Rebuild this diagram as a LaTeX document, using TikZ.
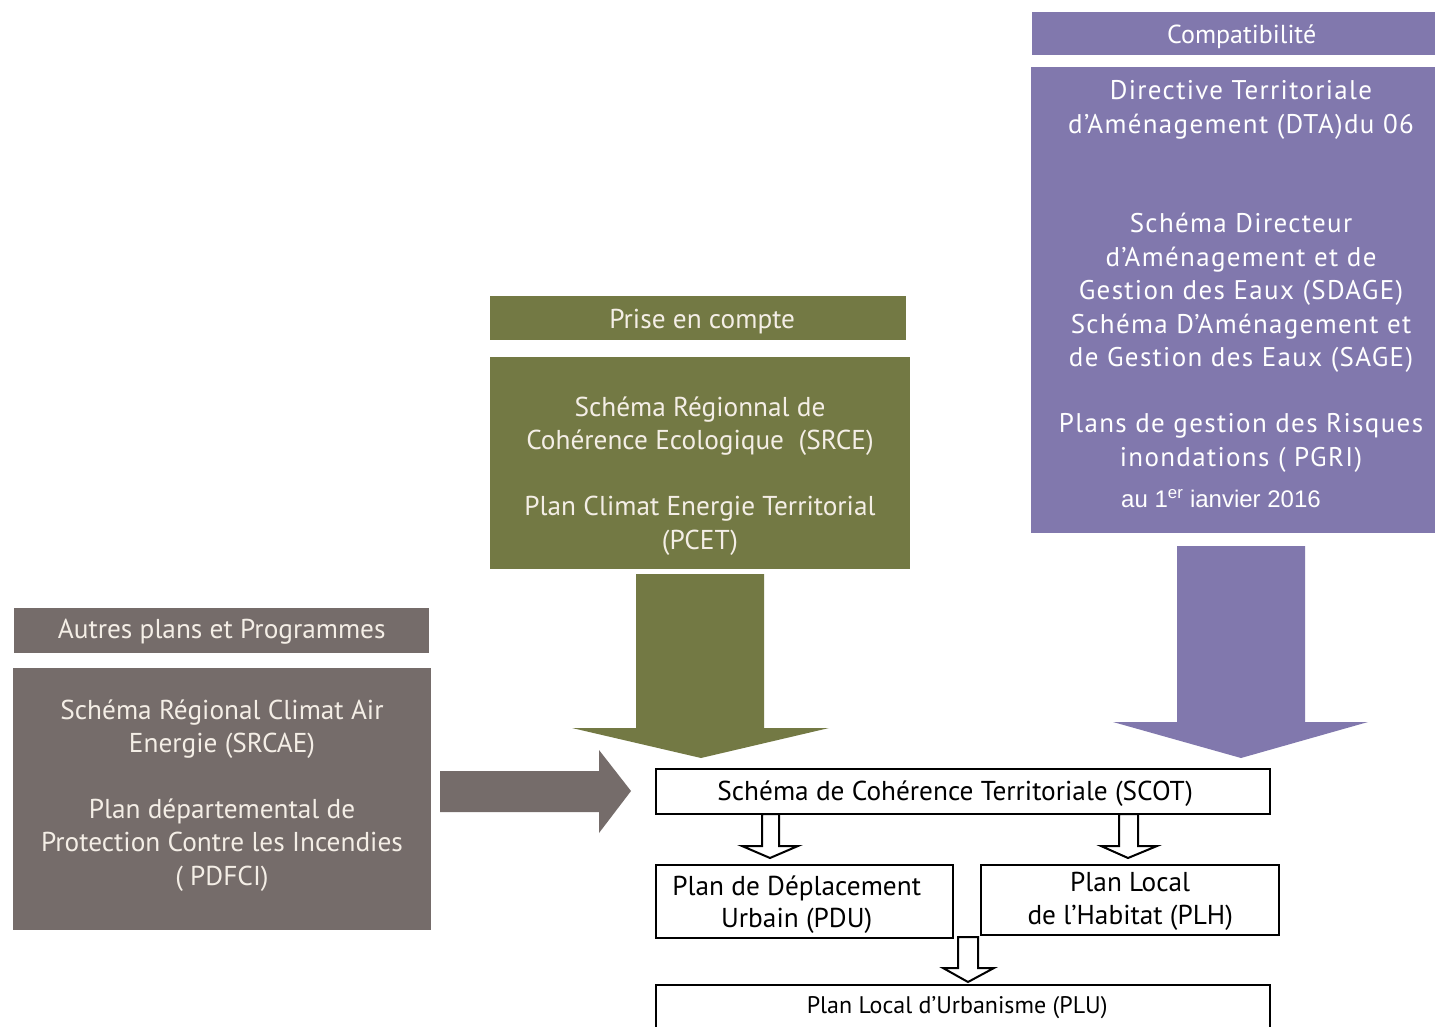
\documentclass[tikz,border=0pt]{standalone}
\usepackage{fontspec}
\setmainfont{PT Sans}
\newfontfamily\spaced[LetterSpace=5]{PT Sans}
\newfontfamily\arialf{Liberation Sans}
\definecolor{cgray}{HTML}{756C6A}
\definecolor{colive}{HTML}{737944}
\definecolor{cpurple}{HTML}{8178AD}
\definecolor{ccream}{HTML}{F4EEE6}
\begin{document}
\begin{tikzpicture}[x=1pt,y=-1pt,
  fillbox/.style={draw=none,inner sep=0pt,anchor=north west},
  wtext/.style={text=ccream,align=center,font=\fontsize{27.3}{33.5}\selectfont},
  ptext/.style={text=white,align=center,font=\spaced\fontsize{27}{33.5}\selectfont},
  bbox/.style={draw=black,line width=2.4pt,fill=white,inner sep=0pt,anchor=north west},
  btext/.style={text=black,align=center,font=\fontsize{27.3}{32.5}\selectfont},
  hollow/.style={draw=black,line width=2pt,fill=white,line join=miter}]
\useasboundingbox (0,0) rectangle (1435,1027);
\fill[white] (0,0) rectangle (1435,1027);

% purple
\node[fillbox,fill=cpurple,minimum width=403,minimum height=43] (ph) at (1032,12) {};
\node[text=white,font=\fontsize{26}{30}\selectfont] at ([xshift=8,yshift=-3]ph.center) {Compatibilité};
\node[fillbox,fill=cpurple,minimum width=404,minimum height=466] (pb) at (1031,67) {};
\node[ptext] (pt1) at (1241,110) {Directive Territoriale\\d’Aménagement (DTA)du 06};
\node[ptext] (pt2) at (1241,293) {Schéma Directeur\\d’Aménagement et de\\Gestion des Eaux (SDAGE)\\Schéma D’Aménagement et\\de Gestion des Eaux (SAGE)};
\node[ptext] (pt3) at (1241,443) {Plans de gestion des Risques\\inondations ( PGRI)};
\node[text=white,font=\arialf\fontsize{24}{28}\selectfont] (pt4) at (1221,499) {au 1\textsuperscript{er} ianvier 2016};
\fill[cpurple] (1177,546) -- (1305,546) -- (1305,722) -- (1368,722) -- (1241,758) -- (1113,722) -- (1177,722) -- cycle;

% olive
\node[fillbox,fill=colive,minimum width=416,minimum height=44] (oh) at (490,296) {};
\node[wtext] at ([xshift=4,yshift=-3]oh.center) {Prise en compte};
\node[fillbox,fill=colive,minimum width=420,minimum height=212] (ob) at (490,357) {};
\node[wtext] (ot1) at (700,426) {Schéma Régionnal de\\Cohérence Ecologique~~(SRCE)};
\node[wtext] (ot2) at (700,526) {Plan Climat Energie Territorial\\(PCET)};
\fill[colive] (636,574) -- (764,574) -- (764,728) -- (829,728) -- (701,758) -- (572,728) -- (636,728) -- cycle;

% gray
\node[fillbox,fill=cgray,minimum width=415,minimum height=45] (gh) at (14,608) {};
\node[wtext] at ([yshift=-1]gh.center) {Autres plans et Programmes};
\node[fillbox,fill=cgray,minimum width=418,minimum height=262] (gb) at (13,668) {};
\node[wtext] (gt1) at (222,729) {Schéma Régional Climat Air\\Energie (SRCAE)};
\node[wtext] (gt2) at (222,845) {Plan départemental de\\Protection Contre les Incendies\\( PDFCI)};
\fill[cgray] (440,771) -- (599,771) -- (599,750) -- (631,791) -- (599,833) -- (599,812) -- (440,812) -- cycle;

% black boxes
\node[bbox,minimum width=614,minimum height=45] (scot) at (655,768) {};
\node[btext] at ([xshift=-8,yshift=-2]scot.center) {Schéma de Cohérence Territoriale (SCOT)};
\node[bbox,minimum width=297,minimum height=73] (pdu) at (655,864) {};
\node[btext] at ([xshift=-8,yshift=-3]pdu.center) {Plan de Déplacement\\Urbain (PDU)};
\node[bbox,minimum width=298,minimum height=70] (plh) at (980,864) {};
\node[btext] at ([yshift=-1]plh.center) {Plan Local\\de l’Habitat (PLH)};
\node[bbox,minimum width=614,minimum height=70] (plu) at (655,984) {};
\node[text=black,font=\fontsize{24}{28}\selectfont] at ([xshift=-6,yshift=-24]plu.north) {Plan Local d’Urbanisme (PLU)};

% hollow arrows
\draw[hollow] (762,814) -- (779,814) -- (779,846) -- (798,846) -- (770,858) -- (742,846) -- (762,846) -- cycle;
\draw[hollow] (1119,814) -- (1138,814) -- (1138,846) -- (1157,846) -- (1128,858) -- (1101,846) -- (1119,846) -- cycle;
\draw[hollow] (958,937) -- (978,937) -- (978,968) -- (994,968) -- (968,982) -- (943,968) -- (958,968) -- cycle;
\end{tikzpicture}
\end{document}
